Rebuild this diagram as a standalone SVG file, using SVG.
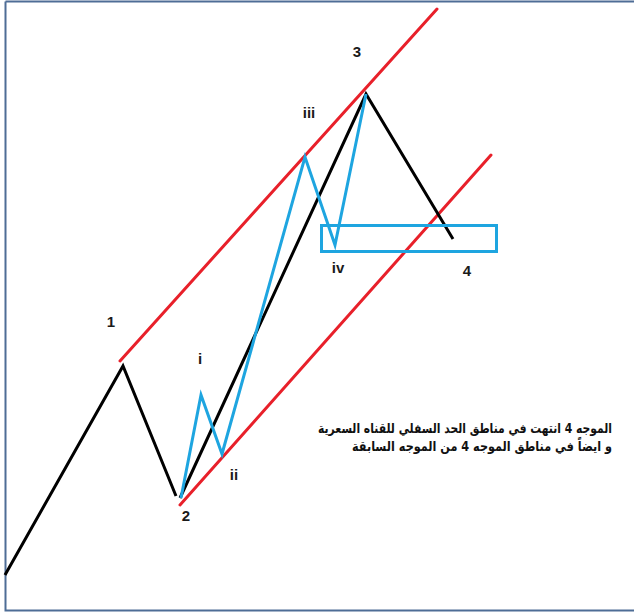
<svg xmlns="http://www.w3.org/2000/svg" width="635" height="613" viewBox="0 0 635 613">
<style>
.blk{fill:none;stroke:#000;stroke-width:3;stroke-linejoin:miter}
.red{fill:none;stroke:#e8202a;stroke-width:3;stroke-linecap:round}
.blu{fill:none;stroke:#1ea5e0;stroke-width:3;stroke-linejoin:miter}
.lbl{font-family:"Liberation Sans",Arial,sans-serif;font-weight:bold;font-size:15px;fill:#1a1a1a;text-anchor:middle}
.ar{font-family:"DejaVu Sans",sans-serif;font-weight:bold;font-size:13.5px;fill:#111}
</style>
<rect x="0" y="0" width="635" height="613" fill="#ffffff"/>
<path d="M5.5 1.5 H634 M5.5 1.5 V610.5 H634" fill="none" stroke="#4e6d96" stroke-width="2"/>
<g id="connectors">
<path class="red" d="M120 361 L437 9"/>
<path class="red" d="M180 505 L491 155"/>
<path class="blk" d="M5 575 L123 366 L176 496"/>
<path class="blk" d="M180 498 L366 94 L453 239"/>
<path class="blu" d="M181 498 L201 395 L222 454 L305 157 L335 245 L366 94"/>
</g>
<g id="zone"><rect x="321.5" y="225.5" width="175" height="26" fill="none" stroke="#1ea5e0" stroke-width="3"/></g>
<g id="labels">
<text class="lbl" x="111" y="327">1</text>
<text class="lbl" x="186" y="521">2</text>
<text class="lbl" x="357" y="57">3</text>
<text class="lbl" x="467" y="276">4</text>
<text class="lbl" x="200" y="364">i</text>
<text class="lbl" x="234" y="480">ii</text>
<text class="lbl" x="309" y="118">iii</text>
<text class="lbl" x="338" y="273">iv</text>
</g>
<g id="note">
<text class="ar" x="612" y="433" direction="rtl" textLength="294" lengthAdjust="spacingAndGlyphs">الموجه 4 انتهت في مناطق الحد السفلي للقناه السعرية</text>
<text class="ar" x="612" y="451" direction="rtl" textLength="260" lengthAdjust="spacingAndGlyphs">و ايضاً في مناطق الموجه 4 من الموجه السابقة</text>
</g>
</svg>
